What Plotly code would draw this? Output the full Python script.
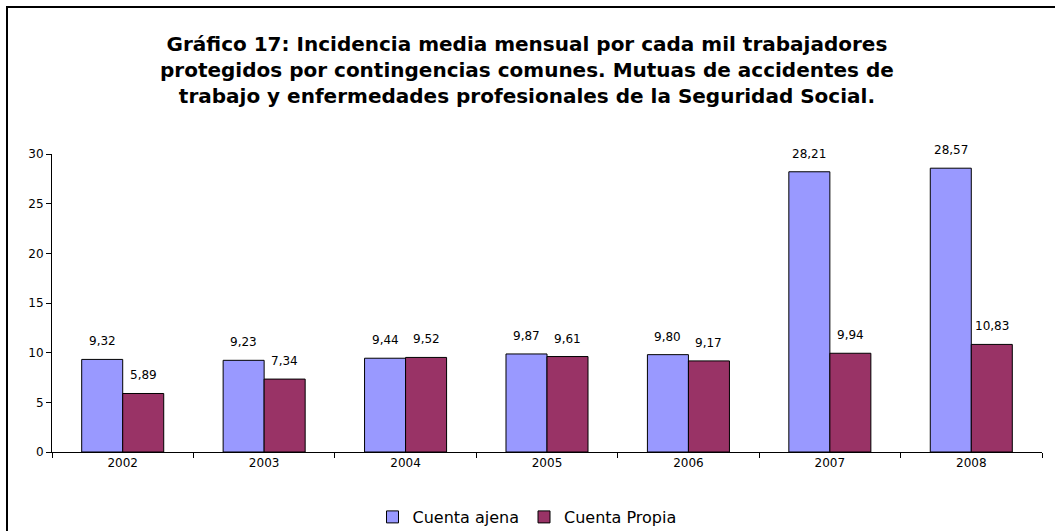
import plotly.graph_objects as go

# datos del gráfico
years = ["2002", "2003", "2004", "2005", "2006", "2007", "2008"]
cuenta_ajena = [9.32, 9.23, 9.44, 9.87, 9.80, 28.21, 28.57]
cuenta_propia = [5.89, 7.34, 9.52, 9.61, 9.17, 9.94, 10.83]

W, H = 1055, 531
L, R, T, B = 52, 13, 154, 79
pw, ph = W - L - R, H - T - B
FONT = "DejaVu Sans, Arial"

fig = go.Figure()
fig.add_trace(go.Bar(x=years, y=cuenta_ajena, name="Cuenta ajena",
                     marker=dict(color="#9999FF", line=dict(color="black", width=1))))
fig.add_trace(go.Bar(x=years, y=cuenta_propia, name="Cuenta Propia",
                     marker=dict(color="#993366", line=dict(color="black", width=1))))

# etiquetas de valores (x por índice de categoría)
bar_px = pw / len(years) * 0.58 / 2
for serie, shift in ((cuenta_ajena, -bar_px / 2), (cuenta_propia, bar_px / 2)):
    for i, v in enumerate(serie):
        fig.add_annotation(x=i, y=v, text=f"{v:.2f}".replace(".", ","),
                           showarrow=False, xshift=shift, yshift=9, yanchor="bottom",
                           font=dict(family=FONT, size=12, color="black"))

title = ("<b>Gráfico 17: Incidencia media mensual por cada mil trabajadores<br>"
         "protegidos por contingencias comunes. Mutuas de accidentes de<br>"
         "trabajo y enfermedades profesionales de la Seguridad Social.</b>")
fig.add_annotation(text=title, xref="paper", yref="paper",
                   x=(527 - L) / pw, y=(H - B - 70) / ph, xanchor="center", yanchor="middle",
                   showarrow=False,
                   font=dict(family=FONT, size=20, color="black"))

# marco exterior
fig.add_shape(type="rect", xref="paper", yref="paper",
              x0=(7 - L) / pw, x1=(W + 10 - L) / pw,
              y0=(H - B - (H + 10)) / ph, y1=(H - B - 7) / ph,
              line=dict(color="black", width=2), fillcolor="rgba(0,0,0,0)")

fig.update_layout(
    width=W, height=H,
    margin=dict(l=L, r=R, t=T, b=B, autoexpand=False),
    barmode="group", bargap=0.42, bargroupgap=0,
    plot_bgcolor="white", paper_bgcolor="white",
    font=dict(family=FONT, size=12, color="black"),
    showlegend=True,
    legend=dict(orientation="h", x=(527 - L) / pw, xanchor="center",
                y=-(517 - (H - B)) / ph, yanchor="middle",
                font=dict(size=16), itemwidth=30),
)
fig.update_xaxes(type="category", range=[-0.5, len(years) - 0.5],
                 tickson="boundaries", ticks="outside", ticklen=5,
                 tickcolor="black", showline=True, linecolor="black", linewidth=1,
                 showgrid=False, tickfont=dict(size=12))
fig.update_yaxes(range=[0, 30], dtick=5, ticks="outside", ticklen=5, tickcolor="black",
                 showline=True, linecolor="black", linewidth=1, showgrid=False,
                 zeroline=False, tickfont=dict(size=12))

# sin margen del body para que la figura empiece en (0, 0)
fig.write_html("out.html", config={"displayModeBar": False},
               post_script="document.body.style.margin='0';")
